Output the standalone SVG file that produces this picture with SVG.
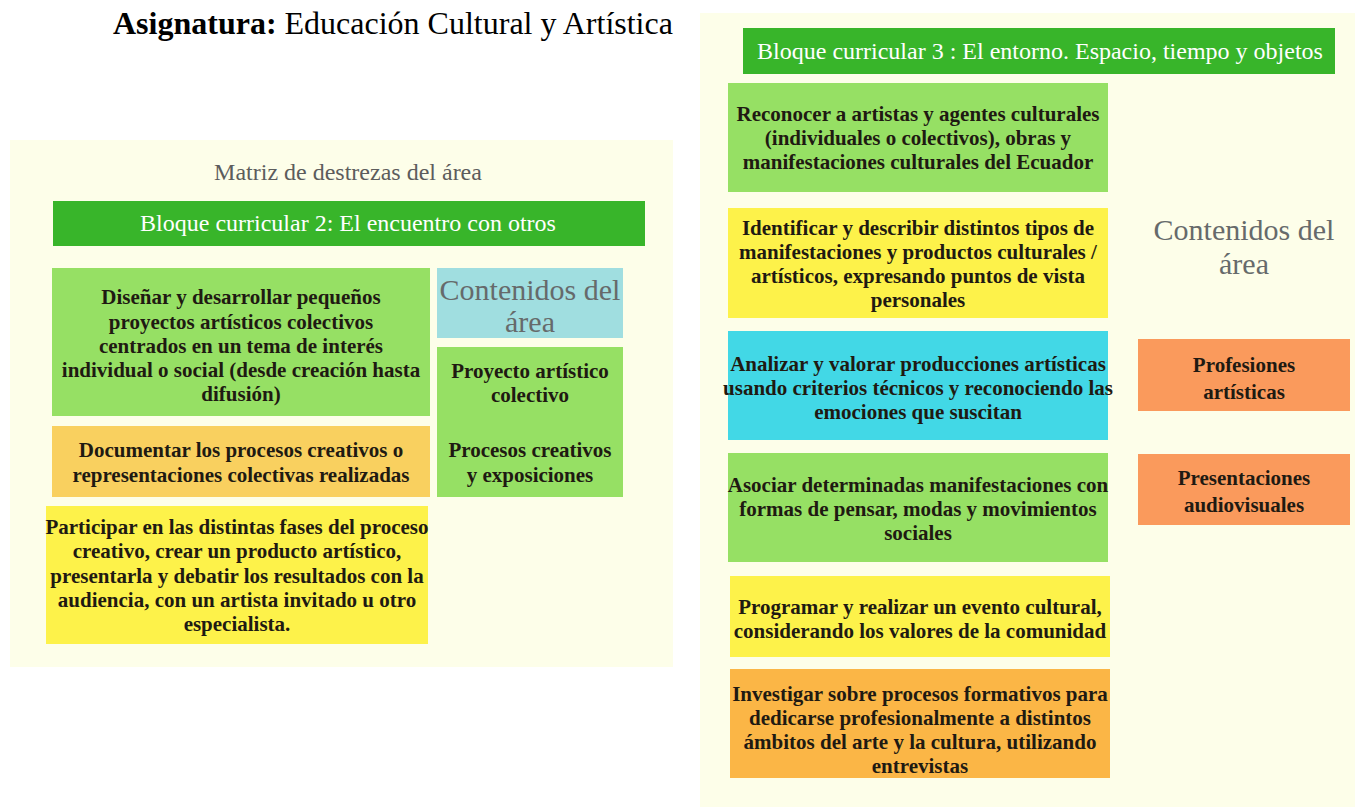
<svg xmlns="http://www.w3.org/2000/svg" width="1355" height="807" viewBox="0 0 1355 807">
<style>
.bg{fill:#fdfee9}
.t{font-family:"Liberation Serif",serif;font-weight:bold;font-size:21px;fill:#1f1a12;text-anchor:middle}
.hd{font-family:"Liberation Serif",serif;font-size:24px;fill:#ffffff;text-anchor:middle}
.cont{font-family:"Liberation Serif",serif;font-size:30px;fill:#666a6b;text-anchor:middle}
.g{fill:#96e064}.y{fill:#fdf24a}.o{fill:#f9d05f}.or{fill:#fbb646}.c{fill:#42d8e6}.p{fill:#fa9a5c}.dg{fill:#38b52a}
</style>
<rect width="1355" height="807" fill="#ffffff"/>
<g id="title">
<text x="113" y="34" font-family="Liberation Serif,serif" font-size="32" fill="#000"><tspan font-weight="bold">Asignatura:</tspan> Educación Cultural y Artística</text>
</g>
<g id="left-panel">
<rect class="bg" x="10" y="140" width="663" height="527"/>
<text x="348" y="180" font-family="Liberation Serif,serif" font-size="24" fill="#5c5c5c" text-anchor="middle">Matriz de destrezas del área</text>
</g>
<g id="bloque2">
<rect class="dg" x="53" y="201" width="592" height="45"/>
<text class="hd" x="348" y="231">Bloque curricular 2: El encuentro con otros</text>
</g>
<g id="l-disenar">
<rect class="g" x="52" y="268" width="378" height="148"/>
<text class="t" x="241" y="304">Diseñar y desarrollar pequeños</text>
<text class="t" x="241" y="329">proyectos artísticos colectivos</text>
<text class="t" x="241" y="353">centrados en un tema de interés</text>
<text class="t" x="241" y="377">individual o social (desde creación hasta</text>
<text class="t" x="241" y="401">difusión)</text>
</g>
<g id="l-contenidos">
<rect fill="#a0dee0" x="437" y="268" width="186" height="70"/>
<text class="cont" x="530" y="300" fill="#6b7f84">Contenidos del</text>
<text class="cont" x="530" y="332">área</text>
</g>
<g id="l-proyecto">
<rect class="g" x="437" y="347" width="186" height="150"/>
<text class="t" x="530" y="378">Proyecto artístico</text>
<text class="t" x="530" y="402">colectivo</text>
<text class="t" x="530" y="457">Procesos creativos</text>
<text class="t" x="530" y="482">y exposiciones</text>
</g>
<g id="l-documentar">
<rect class="o" x="52" y="426" width="378" height="71"/>
<text class="t" x="241" y="457">Documentar los procesos creativos o</text>
<text class="t" x="241" y="482">representaciones colectivas realizadas</text>
</g>
<g id="l-participar">
<rect class="y" x="46" y="506" width="382" height="138"/>
<text class="t" x="237" y="534">Participar en las distintas fases del proceso</text>
<text class="t" x="237" y="558">creativo, crear un producto artístico,</text>
<text class="t" x="237" y="583">presentarla y debatir los resultados con la</text>
<text class="t" x="237" y="607">audiencia, con un artista invitado u otro</text>
<text class="t" x="237" y="631">especialista.</text>
</g>
<g id="right-panel">
<rect class="bg" x="700" y="13" width="655" height="794"/>
<text class="cont" x="1244" y="240">Contenidos del</text>
<text class="cont" x="1244" y="274">área</text>
</g>
<g id="bloque3">
<rect class="dg" x="743" y="28" width="592" height="46"/>
<text class="hd" x="1040" y="59">Bloque curricular 3 : El entorno. Espacio, tiempo y objetos</text>
</g>
<g id="r-reconocer">
<rect class="g" x="728" y="83" width="380" height="109"/>
<text class="t" x="918" y="121">Reconocer a artistas y agentes culturales</text>
<text class="t" x="918" y="145">(individuales o colectivos), obras y</text>
<text class="t" x="918" y="169">manifestaciones culturales del Ecuador</text>
</g>
<g id="r-identificar">
<rect class="y" x="728" y="208" width="380" height="110"/>
<text class="t" x="918" y="235">Identificar y describir distintos tipos de</text>
<text class="t" x="918" y="259">manifestaciones y productos culturales /</text>
<text class="t" x="918" y="283">artísticos, expresando puntos de vista</text>
<text class="t" x="918" y="307">personales</text>
</g>
<g id="r-analizar">
<rect class="c" x="728" y="331" width="380" height="109"/>
<text class="t" x="918" y="371">Analizar y valorar producciones artísticas</text>
<text class="t" x="918" y="395">usando criterios técnicos y reconociendo las</text>
<text class="t" x="918" y="419">emociones que suscitan</text>
</g>
<g id="r-asociar">
<rect class="g" x="728" y="453" width="380" height="109"/>
<text class="t" x="918" y="492">Asociar determinadas manifestaciones con</text>
<text class="t" x="918" y="516">formas de pensar, modas y movimientos</text>
<text class="t" x="918" y="540">sociales</text>
</g>
<g id="r-programar">
<rect class="y" x="730" y="576" width="380" height="81"/>
<text class="t" x="920" y="614">Programar y realizar un evento cultural,</text>
<text class="t" x="920" y="638">considerando los valores de la comunidad</text>
</g>
<g id="r-investigar">
<rect class="or" x="730" y="669" width="380" height="109"/>
<text class="t" x="920" y="701">Investigar sobre procesos formativos para</text>
<text class="t" x="920" y="725">dedicarse profesionalmente a distintos</text>
<text class="t" x="920" y="749">ámbitos del arte y la cultura, utilizando</text>
<text class="t" x="920" y="773">entrevistas</text>
</g>
<g id="r-profesiones">
<rect class="p" x="1138" y="339" width="212" height="72"/>
<text class="t" x="1244" y="372" font-size="24">Profesiones</text>
<text class="t" x="1244" y="399" font-size="24">artísticas</text>
</g>
<g id="r-presentaciones">
<rect class="p" x="1138" y="454" width="212" height="71"/>
<text class="t" x="1244" y="485" font-size="24">Presentaciones</text>
<text class="t" x="1244" y="512" font-size="24">audiovisuales</text>
</g>
<g id="connectors"></g>
</svg>
